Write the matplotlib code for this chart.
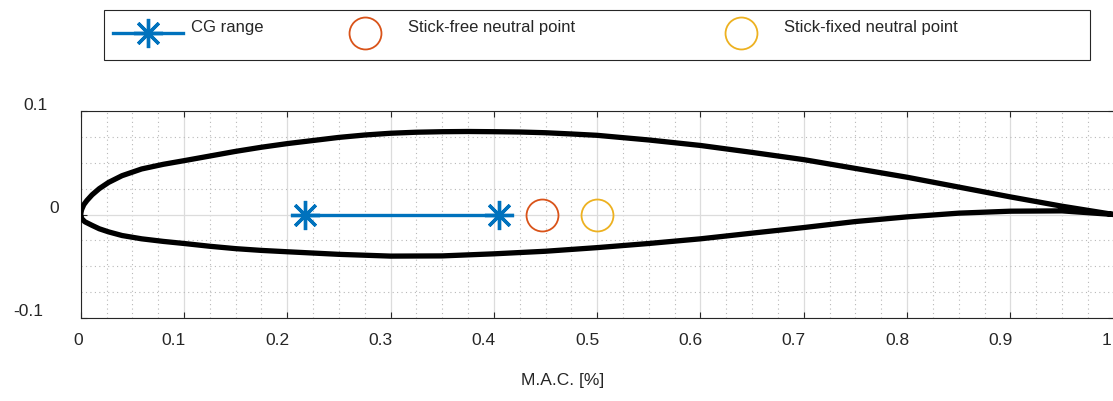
import matplotlib
matplotlib.use("Agg")
import matplotlib.pyplot as plt
import matplotlib.transforms as mtransforms
from matplotlib.lines import Line2D
from matplotlib.patches import Rectangle
from matplotlib.ticker import MultipleLocator

# ----------------------------------------------------------------------
# Data
# ----------------------------------------------------------------------
x_upper = [0.0, 0.0005, 0.001, 0.003, 0.006, 0.011, 0.018, 0.027, 0.04, 0.059,
           0.08, 0.10, 0.125, 0.15, 0.175, 0.20, 0.225, 0.25, 0.275, 0.30,
           0.325, 0.35, 0.375, 0.40, 0.425, 0.45, 0.475, 0.50, 0.55, 0.60,
           0.65, 0.70, 0.75, 0.80, 0.85, 0.90, 0.95, 1.0]
y_upper = [0.0, 0.003, 0.005, 0.0095, 0.0135, 0.019, 0.025, 0.031, 0.0375, 0.044,
           0.0485, 0.052, 0.0565, 0.061, 0.065, 0.0685, 0.0715, 0.0745, 0.0768, 0.0785,
           0.0795, 0.080, 0.0802, 0.080, 0.0797, 0.079, 0.0778, 0.0765, 0.072, 0.0667,
           0.060, 0.053, 0.0445, 0.036, 0.0265, 0.017, 0.008, 0.0]

x_lower = [0.0, 0.001, 0.004, 0.011, 0.018, 0.027, 0.04, 0.059, 0.08, 0.10,
           0.125, 0.15, 0.175, 0.20, 0.25, 0.30, 0.35, 0.40, 0.45, 0.50,
           0.55, 0.60, 0.65, 0.70, 0.75, 0.80, 0.85, 0.90, 0.95, 1.0]
y_lower = [0.0, -0.004, -0.007, -0.0105, -0.0138, -0.0168, -0.0203, -0.0235, -0.026, -0.028,
           -0.0307, -0.033, -0.0347, -0.036, -0.0385, -0.0402, -0.040, -0.038, -0.0355, -0.032,
           -0.028, -0.0235, -0.018, -0.0126, -0.0068, -0.0023, 0.0013, 0.0032, 0.0035, 0.0]

cg_range = [0.217, 0.405]
cg_y = [0.0, 0.0]
np_stick_free = [0.447]
np_stick_fixed = [0.500]
np_y = [0.0]

x_ticks = [0, 0.1, 0.2, 0.3, 0.4, 0.5, 0.6, 0.7, 0.8, 0.9, 1.0]
x_tick_labels = ["0", "0.1", "0.2", "0.3", "0.4", "0.5", "0.6", "0.7", "0.8", "0.9", "1"]
y_ticks = [-0.1, 0, 0.1]
y_tick_labels = ["-0.1", "0", "0.1"]

labels = ["CG range", "Stick-free neutral point", "Stick-fixed neutral point"]

# ----------------------------------------------------------------------
# Style
# ----------------------------------------------------------------------
BLUE = "#0072BD"
RED = "#D95319"
YELLOW = "#EDB120"
TXT = "#262626"

plt.rcParams.update({
    "font.family": ["Liberation Sans", "DejaVu Sans"],
    "font.size": 12.5,
    "text.color": TXT,
    "axes.labelcolor": TXT,
    "xtick.color": TXT,
    "ytick.color": TXT,
})

W, H = 1113, 401
DPI = 100
fig = plt.figure(figsize=(W / DPI, H / DPI), dpi=DPI)

ax_l, ax_r, ax_t, ax_b = 80.7, 1113.7, 111, 318
ax = fig.add_axes([ax_l / W, 1 - ax_b / H, (ax_r - ax_l) / W, (ax_b - ax_t) / H])

# airfoil outline as one line: upper surface TE->LE, then lower LE->TE
xs = x_upper[::-1] + x_lower[1:]
ys = y_upper[::-1] + y_lower[1:]
ax.plot(xs, ys, color="black", lw=3.8, solid_joinstyle="round",
        solid_capstyle="round", zorder=3)

star = (8, 2, 0)
ax.plot(cg_range, cg_y, color=BLUE, lw=2.4, marker=star, ms=21, mew=2.4, zorder=4)
ax.plot(np_stick_free, np_y, ls="none", marker="o", ms=23, mfc="none",
        mec=RED, mew=1.3, zorder=4)
ax.plot(np_stick_fixed, np_y, ls="none", marker="o", ms=23, mfc="none",
        mec=YELLOW, mew=1.3, zorder=4)

ax.set_xlim(0, 1)
ax.set_ylim(-0.1, 0.1)
ax.set_xticks(x_ticks)
ax.set_xticklabels(x_tick_labels, ha="right")
ax.set_yticks(y_ticks)
ax.set_yticklabels(y_tick_labels)
ax.xaxis.set_minor_locator(MultipleLocator(0.025))
ax.yaxis.set_minor_locator(MultipleLocator(0.025))

ax.grid(True, which="major", color="#dcdcdc", lw=0.9, zorder=0)
ax.grid(True, which="minor", color="#b8b8b8", lw=0.8, ls=(0, (1, 3)), zorder=0)
ax.set_axisbelow(True)

ax.tick_params(which="major", direction="in", length=4, width=0.8,
               top=True, right=True, labelsize=12.5)
ax.tick_params(axis="x", which="major", pad=11)
ax.tick_params(axis="y", which="major", pad=15)
ax.tick_params(which="minor", length=0)
for sp in ax.spines.values():
    sp.set_color(TXT)
    sp.set_linewidth(0.8)

ax.set_xlabel("M.A.C. [%]", fontsize=12.5)
ax.xaxis.set_label_coords(0.467, -0.268)

# shift tick labels to where the reference shows them
x_dx = [2] * (len(x_ticks) - 1) + [-2]
for lab, dx in zip(ax.get_xticklabels(), x_dx):
    lab.set_transform(lab.get_transform() +
                      mtransforms.ScaledTranslation(dx / DPI, 0, fig.dpi_scale_trans))
y_dx = [-17, -1, -12]
for lab, dx in zip(ax.get_yticklabels(), y_dx):
    lab.set_transform(lab.get_transform() +
                      mtransforms.ScaledTranslation(dx / DPI, 7.5 / DPI, fig.dpi_scale_trans))

# ----------------------------------------------------------------------
# Legend: one framed box across the top, three entries
# ----------------------------------------------------------------------
fig.add_artist(Rectangle((104 / W, 1 - 60 / H), 986 / W, 50 / H,
                         transform=fig.transFigure, facecolor="white",
                         edgecolor=TXT, lw=0.8, zorder=1))

handles = [
    Line2D([], [], color=BLUE, lw=2.4, marker=star, ms=21, mew=2.4),
    Line2D([], [], ls="none", marker="o", ms=23, mfc="none", mec=RED, mew=1.3),
    Line2D([], [], ls="none", marker="o", ms=23, mfc="none", mec=YELLOW, mew=1.3),
]
leg_x = [113, 330, 706]
leg_fs = 12
fs_px = leg_fs * DPI / 72
for h, lab, x0 in zip(handles, labels, leg_x):
    leg = fig.legend([h], [lab], loc="center left",
                     bbox_to_anchor=(x0 / W, 1 - 27 / H),
                     frameon=False, fontsize=leg_fs, borderpad=0, borderaxespad=0,
                     handlelength=70 / fs_px, handletextpad=8 / fs_px,
                     handleheight=1.6)
    leg.set_zorder(2)
    # markers sit a little lower than the label text in the reference
    for art in leg.legend_handles:
        art.set_transform(art.get_transform() +
                          mtransforms.ScaledTranslation(0, -9 / DPI, fig.dpi_scale_trans))

fig.savefig("out.png", dpi=DPI, facecolor="white")
